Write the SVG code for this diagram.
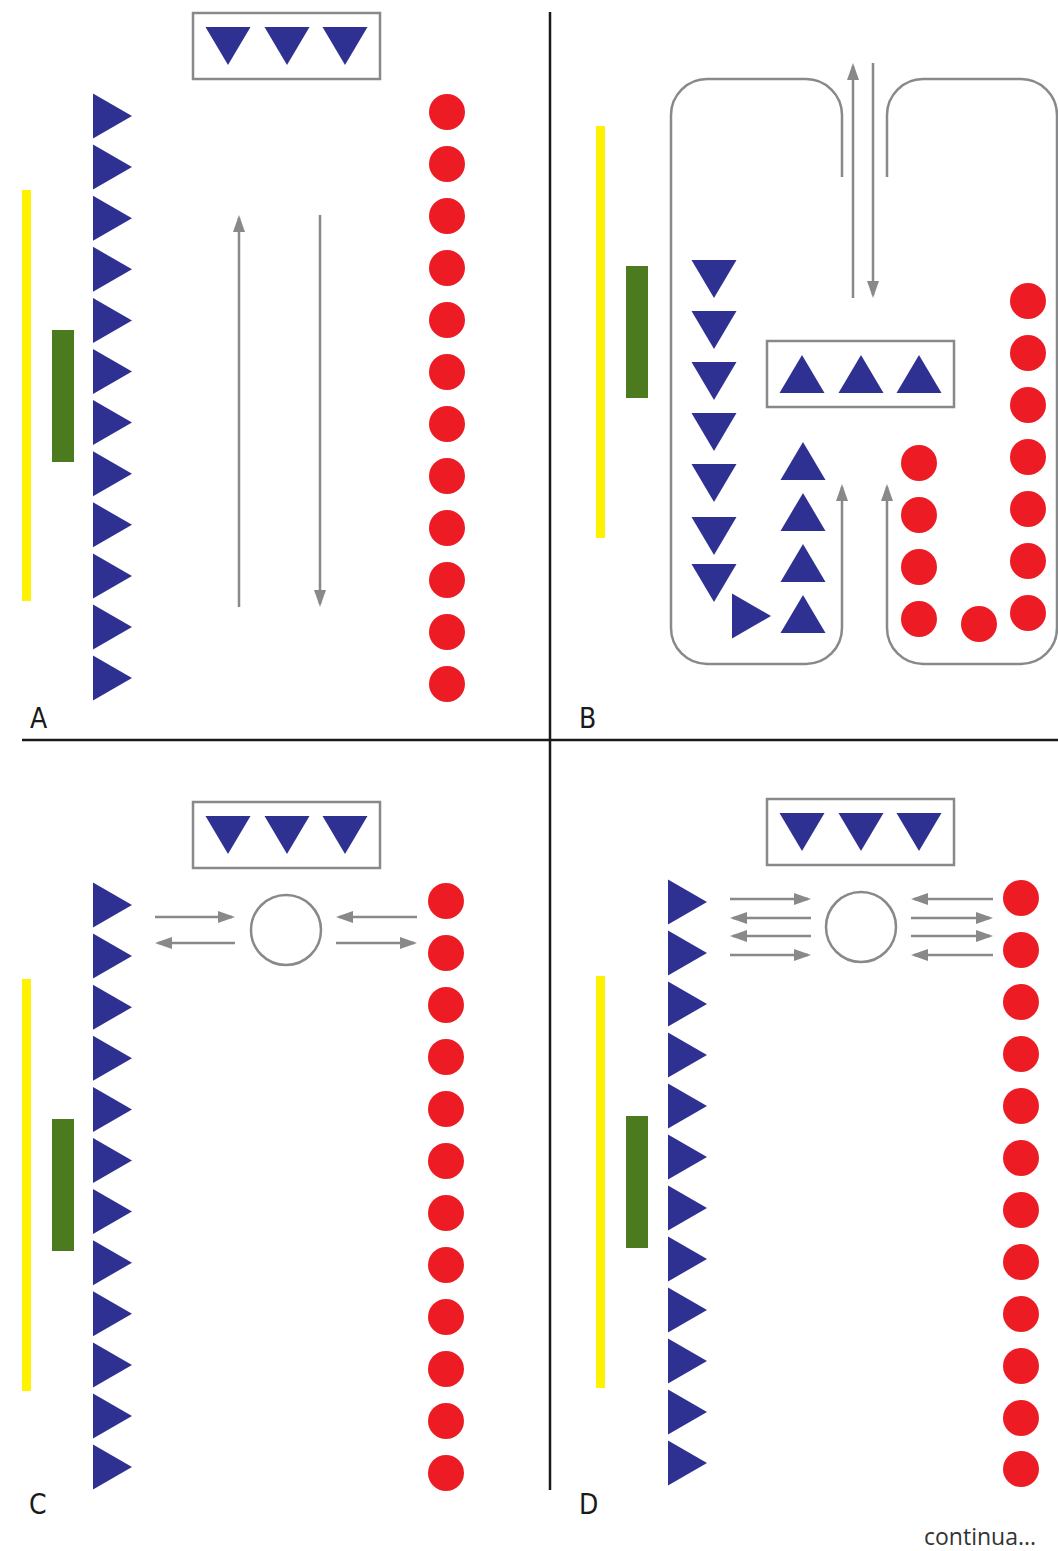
<svg xmlns="http://www.w3.org/2000/svg" xmlns:xlink="http://www.w3.org/1999/xlink" width="1058" height="1551" viewBox="0 0 1058 1551">
  <style>
    .frame { fill: none; stroke: #88898b; stroke-width: 2.5; }
    .conn { fill: none; stroke: #88898b; stroke-width: 2.5; }
    .tri { fill: #2e3192; }
    .dot { fill: #ed1c24; }
    .yellow { fill: #fff200; }
    .green { fill: #4b7a1f; }
    .divider { stroke: #1a1a1a; stroke-width: 2.5; }
    .label { font-family: "DejaVu Sans Condensed", "Liberation Sans", sans-serif; font-size: 28px; fill: #1a1a1a; }
    .note { font-family: "Open Sans", "Noto Sans", sans-serif; font-size: 23px; fill: #333; }
  </style>
  <defs>
    <polygon id="triR" class="tri" points="0,-22.5 39,0 0,22.5"/>
    <polygon id="triD" class="tri" points="-22.5,-19 22.5,-19 0,19"/>
    <polygon id="triU" class="tri" points="-22.5,19 22.5,19 0,-19"/>
    <circle id="dot" class="dot" r="18"/>
    <marker id="ah" viewBox="0 0 17 12" refX="14" refY="6" markerWidth="17" markerHeight="12" markerUnits="userSpaceOnUse" orient="auto">
      <path d="M0,0 L17,6 L0,12 z" fill="#88898b"/>
    </marker>
  </defs>

  <rect width="1058" height="1551" fill="#fff"/>

  <!-- quadrant dividers -->
  <g id="dividers">
    <line class="divider" x1="550" y1="12" x2="550" y2="1490"/>
    <line class="divider" x1="22" y1="740" x2="1058" y2="740"/>
  </g>

  <!-- ===== Panel A ===== -->
  <g id="panelA">
    <rect class="yellow" x="22" y="190" width="9" height="411"/>
    <rect class="green" x="52" y="330" width="22" height="132"/>
    <g id="A-box">
      <rect class="frame" x="193" y="13" width="187" height="66"/>
      <use href="#triD" x="228" y="46"/>
      <use href="#triD" x="287" y="46"/>
      <use href="#triD" x="345" y="46"/>
    </g>
    <g id="A-triangles">
      <use href="#triR" x="93" y="116"/>
      <use href="#triR" x="93" y="167.1"/>
      <use href="#triR" x="93" y="218.2"/>
      <use href="#triR" x="93" y="269.3"/>
      <use href="#triR" x="93" y="320.4"/>
      <use href="#triR" x="93" y="371.5"/>
      <use href="#triR" x="93" y="422.6"/>
      <use href="#triR" x="93" y="473.7"/>
      <use href="#triR" x="93" y="524.8"/>
      <use href="#triR" x="93" y="575.9"/>
      <use href="#triR" x="93" y="627"/>
      <use href="#triR" x="93" y="678"/>
    </g>
    <g id="A-dots">
      <use href="#dot" x="447" y="112"/>
      <use href="#dot" x="447" y="164"/>
      <use href="#dot" x="447" y="216"/>
      <use href="#dot" x="447" y="268"/>
      <use href="#dot" x="447" y="320"/>
      <use href="#dot" x="447" y="372"/>
      <use href="#dot" x="447" y="424"/>
      <use href="#dot" x="447" y="476"/>
      <use href="#dot" x="447" y="528"/>
      <use href="#dot" x="447" y="580"/>
      <use href="#dot" x="447" y="632"/>
      <use href="#dot" x="447" y="684"/>
    </g>
    <text class="label" x="30" y="728">A</text>
  </g>

  <!-- ===== Panel B ===== -->
  <g id="panelB">
    <rect class="yellow" x="596" y="126" width="9" height="412"/>
    <rect class="green" x="626" y="266" width="22" height="132"/>
    <g id="B-box">
      <rect class="frame" x="767" y="341" width="187" height="66"/>
      <use href="#triU" x="802" y="374"/>
      <use href="#triU" x="861" y="374"/>
      <use href="#triU" x="919" y="374"/>
    </g>
    <g id="B-down-column">
      <use href="#triD" x="714" y="279"/>
      <use href="#triD" x="714" y="330"/>
      <use href="#triD" x="714" y="381"/>
      <use href="#triD" x="714" y="432"/>
      <use href="#triD" x="714" y="483"/>
      <use href="#triD" x="714" y="536"/>
      <use href="#triD" x="714" y="583"/>
      <use href="#triR" x="732" y="616"/>
    </g>
    <g id="B-up-column">
      <use href="#triU" x="803" y="461"/>
      <use href="#triU" x="803" y="512"/>
      <use href="#triU" x="803" y="563"/>
      <use href="#triU" x="803" y="614"/>
    </g>
    <g id="B-dots">
      <use href="#dot" x="919" y="463"/>
      <use href="#dot" x="919" y="515"/>
      <use href="#dot" x="919" y="567"/>
      <use href="#dot" x="919" y="619"/>
      <use href="#dot" x="979" y="624"/>
      <use href="#dot" x="1028" y="301"/>
      <use href="#dot" x="1028" y="353"/>
      <use href="#dot" x="1028" y="405"/>
      <use href="#dot" x="1028" y="457"/>
      <use href="#dot" x="1028" y="509"/>
      <use href="#dot" x="1028" y="561"/>
      <use href="#dot" x="1028" y="613"/>
    </g>
    <text class="label" x="579" y="728">B</text>
  </g>

  <!-- ===== Panel C ===== -->
  <g id="panelC">
    <rect class="yellow" x="22" y="979" width="9" height="412"/>
    <rect class="green" x="52" y="1119" width="22" height="132"/>
    <g id="C-box">
      <rect class="frame" x="193" y="802" width="187" height="66"/>
      <use href="#triD" x="228" y="835"/>
      <use href="#triD" x="287" y="835"/>
      <use href="#triD" x="345" y="835"/>
    </g>
    <circle id="C-ball" class="frame" cx="286" cy="930" r="35"/>
    <g id="C-triangles">
      <use href="#triR" x="93" y="905"/>
      <use href="#triR" x="93" y="956.1"/>
      <use href="#triR" x="93" y="1007.2"/>
      <use href="#triR" x="93" y="1058.3"/>
      <use href="#triR" x="93" y="1109.4"/>
      <use href="#triR" x="93" y="1160.5"/>
      <use href="#triR" x="93" y="1211.6"/>
      <use href="#triR" x="93" y="1262.7"/>
      <use href="#triR" x="93" y="1313.8"/>
      <use href="#triR" x="93" y="1364.9"/>
      <use href="#triR" x="93" y="1416"/>
      <use href="#triR" x="93" y="1467"/>
    </g>
    <g id="C-dots">
      <use href="#dot" x="446" y="901"/>
      <use href="#dot" x="446" y="953"/>
      <use href="#dot" x="446" y="1005"/>
      <use href="#dot" x="446" y="1057"/>
      <use href="#dot" x="446" y="1109"/>
      <use href="#dot" x="446" y="1161"/>
      <use href="#dot" x="446" y="1213"/>
      <use href="#dot" x="446" y="1265"/>
      <use href="#dot" x="446" y="1317"/>
      <use href="#dot" x="446" y="1369"/>
      <use href="#dot" x="446" y="1421"/>
      <use href="#dot" x="446" y="1473"/>
    </g>
    <text class="label" x="29" y="1514">C</text>
  </g>

  <!-- ===== Panel D ===== -->
  <g id="panelD">
    <rect class="yellow" x="596" y="976" width="9" height="412"/>
    <rect class="green" x="626" y="1116" width="22" height="132"/>
    <g id="D-box">
      <rect class="frame" x="767" y="799" width="187" height="66"/>
      <use href="#triD" x="802" y="832"/>
      <use href="#triD" x="861" y="832"/>
      <use href="#triD" x="919" y="832"/>
    </g>
    <circle id="D-ball" class="frame" cx="861" cy="927" r="35"/>
    <g id="D-triangles">
      <use href="#triR" x="668" y="902"/>
      <use href="#triR" x="668" y="953"/>
      <use href="#triR" x="668" y="1004"/>
      <use href="#triR" x="668" y="1055"/>
      <use href="#triR" x="668" y="1106"/>
      <use href="#triR" x="668" y="1157"/>
      <use href="#triR" x="668" y="1208"/>
      <use href="#triR" x="668" y="1259"/>
      <use href="#triR" x="668" y="1310"/>
      <use href="#triR" x="668" y="1361"/>
      <use href="#triR" x="668" y="1412"/>
      <use href="#triR" x="668" y="1463"/>
    </g>
    <g id="D-dots">
      <use href="#dot" x="1021" y="898"/>
      <use href="#dot" x="1021" y="950"/>
      <use href="#dot" x="1021" y="1002"/>
      <use href="#dot" x="1021" y="1054"/>
      <use href="#dot" x="1021" y="1106"/>
      <use href="#dot" x="1021" y="1158"/>
      <use href="#dot" x="1021" y="1210"/>
      <use href="#dot" x="1021" y="1262"/>
      <use href="#dot" x="1021" y="1314"/>
      <use href="#dot" x="1021" y="1366"/>
      <use href="#dot" x="1021" y="1418"/>
      <use href="#dot" x="1021" y="1469"/>
    </g>
    <text class="label" x="579" y="1514">D</text>
  </g>

  <!-- movement lines and arrows -->
  <g id="connectors">
    <!-- A: up and down runs -->
    <line class="conn" x1="239" y1="607" x2="239" y2="218" marker-end="url(#ah)"/>
    <line class="conn" x1="320" y1="215" x2="320" y2="604" marker-end="url(#ah)"/>
    <!-- B: central passage -->
    <line class="conn" x1="853" y1="298" x2="853" y2="66" marker-end="url(#ah)"/>
    <line class="conn" x1="873" y1="63" x2="873" y2="295" marker-end="url(#ah)"/>
    <!-- B: enclosing loops -->
    <path class="conn" d="M842,177 V115 A36,36 0 0 0 806,79 H707 A36,36 0 0 0 671,115 V628 A36,36 0 0 0 707,664 H806 A36,36 0 0 0 842,628 V487" marker-end="url(#ah)"/>
    <path class="conn" d="M887,177 V115 A36,36 0 0 1 923,79 H1021 A36,36 0 0 1 1057,115 V628 A36,36 0 0 1 1021,664 H923 A36,36 0 0 1 887,628 V487" marker-end="url(#ah)"/>
    <!-- C: passes around the ball -->
    <line class="conn" x1="155" y1="917" x2="232" y2="917" marker-end="url(#ah)"/>
    <line class="conn" x1="235" y1="943" x2="158" y2="943" marker-end="url(#ah)"/>
    <line class="conn" x1="417" y1="917" x2="339" y2="917" marker-end="url(#ah)"/>
    <line class="conn" x1="336" y1="943" x2="414" y2="943" marker-end="url(#ah)"/>
    <!-- D: passes around the ball -->
    <line class="conn" x1="730" y1="899" x2="808" y2="899" marker-end="url(#ah)"/>
    <line class="conn" x1="811" y1="918" x2="733" y2="918" marker-end="url(#ah)"/>
    <line class="conn" x1="811" y1="936" x2="733" y2="936" marker-end="url(#ah)"/>
    <line class="conn" x1="730" y1="955" x2="808" y2="955" marker-end="url(#ah)"/>
    <line class="conn" x1="993" y1="899" x2="914" y2="899" marker-end="url(#ah)"/>
    <line class="conn" x1="911" y1="918" x2="990" y2="918" marker-end="url(#ah)"/>
    <line class="conn" x1="911" y1="936" x2="990" y2="936" marker-end="url(#ah)"/>
    <line class="conn" x1="993" y1="955" x2="914" y2="955" marker-end="url(#ah)"/>
  </g>

  <text class="note" x="924" y="1545">continua...</text>
</svg>
